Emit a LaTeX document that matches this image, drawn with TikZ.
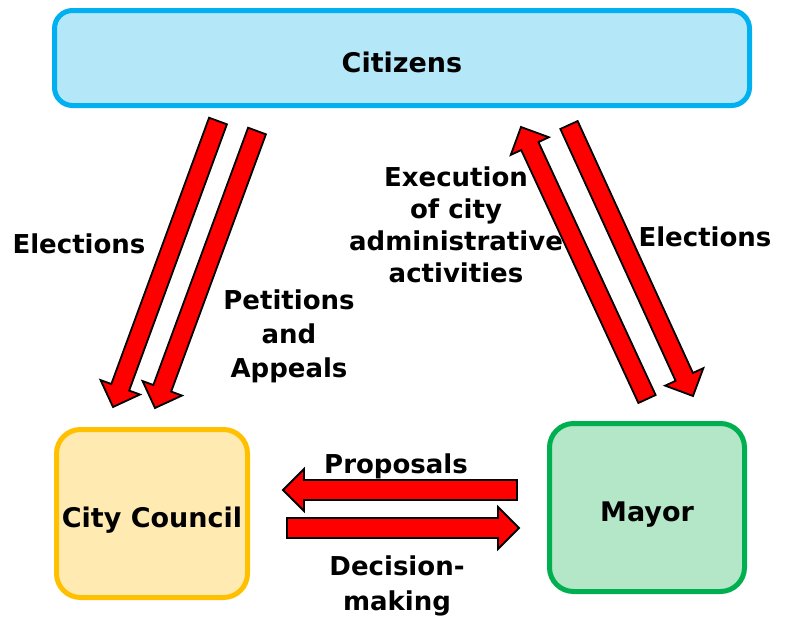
\documentclass[tikz,border=0pt]{standalone}
\usepackage{fontspec}
\setmainfont{DejaVu Sans}
\usetikzlibrary{calc}
\definecolor{mblue}{RGB}{0,176,240}
\definecolor{mlblue}{RGB}{180,232,249}
\definecolor{morange}{RGB}{255,192,0}
\definecolor{mlorange}{RGB}{255,234,178}
\definecolor{mgreen}{RGB}{0,176,80}
\definecolor{mlgreen}{RGB}{179,231,200}
\tikzset{box/.style = {line width=5pt, inner sep=0, text height=28pt, text depth=0pt,
                       font=\bfseries\fontsize{27}{32}\selectfont}}
\tikzset{lbl/.style = {inner sep=0, align=center, font=\bfseries\fontsize{26}{34}\selectfont}}
\tikzset{barrow/.style = {fill=red, draw=black, line width=1.8pt, line join=miter}}
% block arrow from tail #2 to tip #3, #1 = half shaft width
\newcommand{\bigarrow}[3][9.5pt]{%
  \draw [barrow] let \p1 = ($(#3)-(#2)$), \n1 = {veclen(\x1,\y1)}, \n2 = {atan2(\y1,\x1)} in
    [shift={(#2)}, rotate=\n2] (0pt,-#1) -- ({\n1-21pt},-#1) -- ({\n1-21pt},-21pt) -- (\n1,0pt)
    -- ({\n1-21pt},21pt) -- ({\n1-21pt},#1) -- (0pt,#1) -- cycle;}

\begin{document}
\begin{tikzpicture}[x=1pt, y=-1pt]
    \useasboundingbox (0,0) rectangle (787,619);

    \node [box, draw=mblue, fill=mlblue, rounded corners=18pt, minimum width=695, minimum height=95] (citizens) at (402,58) {Citizens};
    \node [box, draw=morange, fill=mlorange, rounded corners=24pt, minimum width=191, minimum height=168] (council) at (152,513.5) {City Council};
    \node [box, draw=mgreen, fill=mlgreen, rounded corners=24pt, minimum width=195, minimum height=168] (mayor) at (647,507.5) {Mayor};

    \coordinate (elecL-s) at (218,121);
    \coordinate (elecL-e) at (113,407);
    \coordinate (petit-s) at (257,131);
    \coordinate (petit-e) at (155,408);
    \coordinate (exec-s) at (647,399);
    \coordinate (exec-e) at (521,127);
    \coordinate (elecR-s) at (569,125);
    \coordinate (elecR-e) at (693,396);
    \coordinate (prop-s) at (517,490);
    \coordinate (prop-e) at (283,490);
    \coordinate (dec-s) at (287,528);
    \coordinate (dec-e) at (519,528);

    \bigarrow{elecL-s}{elecL-e}
    \bigarrow{petit-s}{petit-e}
    \bigarrow{exec-s}{exec-e}
    \bigarrow{elecR-s}{elecR-e}
    \bigarrow[10pt]{prop-s}{prop-e}
    \bigarrow[10pt]{dec-s}{dec-e}

    \node [lbl, anchor=base] (elecL) at (79,253) {Elections};
    \node [lbl] (petit) at (289,336.7) {Petitions\\and\\Appeals};
    \node [lbl, font=\bfseries\fontsize{26}{32}\selectfont] (exec) at (456,225) {Execution\\of city\\administrative\\activities};
    \node [lbl, anchor=base] (elecR) at (705,246) {Elections};
    \node [lbl, anchor=base] (prop) at (396,473) {Proposals};
    \node [lbl, font=\bfseries\fontsize{26}{35}\selectfont] (dec) at (397,586) {Decision-\\making};
\end{tikzpicture}
\end{document}
